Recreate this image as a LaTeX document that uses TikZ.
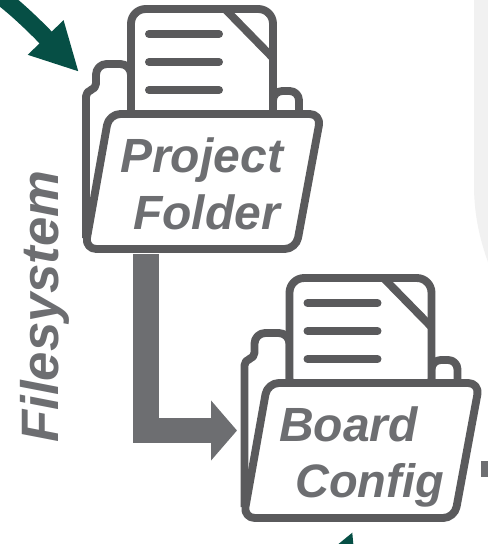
\documentclass[tikz,border=0pt]{standalone}
\usepackage{fontspec}
\setmainfont{Liberation Sans}
\usetikzlibrary{arrows.meta}
\definecolor{inkgray}{HTML}{5A5A5C}
\definecolor{textgray}{HTML}{6D6E71}
\definecolor{deepgreen}{HTML}{064F45}
\definecolor{panelgray}{HTML}{F1F1F1}
\tikzset{
  iconline/.style={draw=inkgray,line width=5.9pt,line join=round,fill=white},
  docline/.style={draw=inkgray,line width=6pt,line cap=round},
  label/.style={anchor=base west,inner sep=0pt,text=textgray,font=\fontsize{36}{36}\selectfont\bfseries\itshape},
  flowarrow/.style={draw=textgray,line width=19.25pt,-{Triangle[length=19.5pt,width=44pt]}},
  greenarrow/.style={draw=deepgreen,line width=12.75pt,-{Triangle[length=36pt,width=34.5pt]}}
}
\newcommand{\foldericon}[2]{%
  \begin{scope}[shift={(#1,#2)}]
    \draw[iconline] (86,238) [rounded corners=4pt] -- (86,91) -- (96,89) [rounded corners=8pt] -- (96,64) -- (131,64) [sharp corners] -- (131,114);
    \draw[iconline,rounded corners=7pt] (273,114) -- (273,91) -- (299,91) -- (299,114);
    \path[fill=white,rounded corners=11pt] (131,114) -- (131,9) -- (273,9) -- (273,114) -- cycle;
    \draw[iconline,fill=none,rounded corners=11pt] (131,114) -- (131,9) -- (273,9) -- (273,114);
    \draw[iconline,fill=none] (225,9) -- (273,58);
    \draw[docline] (149,34) -- (219,34);
    \draw[docline] (149,62) -- (219,62);
    \draw[docline] (149,90) -- (219,90);
    \draw[iconline,rounded corners=8.5pt] (109,114) -- (321,114) -- (296,249) -- (85,249) -- cycle;
  \end{scope}}
\begin{document}
\begin{tikzpicture}[x=0.75pt,y=-0.75pt]
  \useasboundingbox (0,0) rectangle (488,544);
  \clip (0,0) rectangle (488,544);
  \fill[white] (0,0) rectangle (488,544);
  \fill[panelgray] (474,0) -- (474,185) .. controls (474,215) and (480,240) .. (488,262) -- (488,0) -- cycle;
  \coordinate (greenstart) at (-3,-6);
  \coordinate (greentip) at (79,72);
  \draw[greenarrow] (greenstart) .. controls (20,10) and (50,42) .. (greentip);
  \coordinate (lowerstart) at (322,605);
  \coordinate (lowertip) at (352.7,531.7);
  \draw[greenarrow] (lowerstart) -- (lowertip);
  \foldericon{0}{0}
  \foldericon{158.5}{269}
  \coordinate (projectout) at (146,254);
  \coordinate (bend) at (146,430.5);
  \coordinate (boardin) at (237,430.5);
  \draw[flowarrow] (projectout) -- (bend) -- (boardin);
  \coordinate (stubstart) at (481,469);
  \coordinate (stubend) at (492,469);
  \draw[draw=textgray,line width=12pt] (stubstart) -- (stubend);
  \node[label] (project) at (120,172) {Project};
  \node[label] (folder) at (133,229) {Folder};
  \node[label] (board) at (279,441) {Board};
  \node[label,font=\fontsize{35.2}{36}\selectfont\bfseries\itshape] (config) at (295,497) {Config};
  \node[label,rotate=90,font=\fontsize{39.5}{40}\selectfont\bfseries\itshape] (filesystem) at (59,443) {Filesystem};
\end{tikzpicture}
\end{document}
